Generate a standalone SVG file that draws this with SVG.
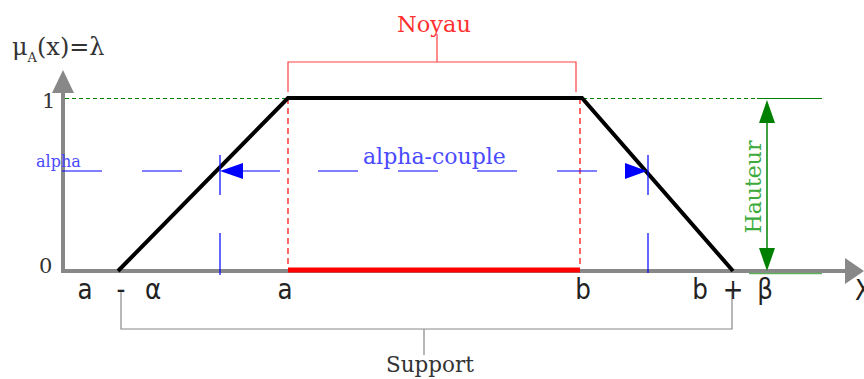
<svg xmlns="http://www.w3.org/2000/svg" width="864" height="379" viewBox="0 0 864 379">
<style>
.serif{font-family:"DejaVu Serif","Liberation Serif",serif}
.sans{font-family:"DejaVu Sans","Liberation Sans",sans-serif}
.axis{stroke:#888;stroke-width:4;fill:none}
.blue{stroke:#0000ff;stroke-width:1.2;fill:none}
.redd{stroke:#ff0000;stroke-width:1.2;stroke-dasharray:6,4;fill:none}
.brk{fill:none;stroke-width:1.2}
</style>
<rect width="864" height="379" fill="#fff"/>
<g id="axes">
<line class="axis" x1="63" y1="271" x2="63" y2="90"/>
<polygon points="63,70 52,93 74,93" fill="#888"/>
<line class="axis" x1="61" y1="271" x2="846" y2="271"/>
<polygon points="864,271 845,258 845,284" fill="#888"/>
</g>
<g id="guides">
<line x1="65" y1="98.5" x2="757" y2="98.5" stroke="#008000" stroke-width="1" stroke-dasharray="4,3"/>
<line x1="757" y1="98.5" x2="822" y2="98.5" stroke="#008000" stroke-width="1"/>
<line x1="749" y1="273.5" x2="822" y2="273.5" stroke="#60b060" stroke-width="1.5"/>
<line class="redd" x1="288" y1="98" x2="288" y2="268"/>
<line class="redd" x1="580" y1="98" x2="580" y2="268"/>
</g>
<g id="trapezoid">
<polyline points="118,271 288,98 582,98 733,271" fill="none" stroke="#000" stroke-width="4" stroke-linejoin="miter"/>
<line x1="288" y1="270" x2="580" y2="270" stroke="#ff0000" stroke-width="5"/>
</g>
<g id="alpha-cut">
<path class="blue" d="M62,171 H102 M142,171 H182 M243,171 H280 M318,171 H358 M398,171 H438 M477,171 H517 M557,171 H597 M220,155 V195 M220,233 V275 M648,155 V195 M648,233 V273"/>
<polygon points="220,171 243,163 243,179" fill="#0000ff"/>
<polygon points="647,171 625,163 625,179" fill="#0000ff"/>
<text class="serif" x="36" y="167" font-size="16" fill="#4a4aff">alpha</text>
<text class="serif" x="363" y="164" font-size="22" fill="#4a4aff">alpha-couple</text>
</g>
<g id="noyau">
<path class="brk" stroke="#ff4040" d="M288,92 V62 H576 V92 M437,62 V34"/>
<text class="serif" x="434" y="32" font-size="22.5" fill="#ff3030" text-anchor="middle">Noyau</text>
</g>
<g id="hauteur">
<line x1="767" y1="122" x2="767" y2="250" stroke="#008000" stroke-width="1.5"/>
<polygon points="767,100 759,123 775,123" fill="#008000"/>
<polygon points="767,271 759,248 775,248" fill="#008000"/>
<text class="serif" transform="translate(761,187) rotate(-90)" font-size="22" fill="#3caa3c" text-anchor="middle">Hauteur</text>
</g>
<g id="support">
<path class="brk" stroke="#888" d="M121,292 V329 H732 V292 M424,329 V355"/>
<text class="serif" x="430" y="372" font-size="21.5" fill="#333" text-anchor="middle">Support</text>
</g>
<g id="labels" fill="#222">
<text class="serif" x="12" y="55" font-size="24" fill="#333">μ<tspan font-size="13" dy="7">A</tspan><tspan dy="-7">(x)=λ</tspan></text>
<text class="serif" x="42" y="108" font-size="21" fill="#333">1</text>
<text class="serif" x="39" y="273" font-size="21" fill="#333">0</text>
<g class="sans" font-size="28" text-anchor="middle">
<text transform="translate(85,299) scale(0.88,1)">a</text>
<text transform="translate(121,299) scale(0.88,1)">-</text>
<text transform="translate(153,299) scale(0.88,1)">α</text>
<text transform="translate(285,299) scale(0.88,1)">a</text>
<text transform="translate(583,299) scale(0.88,1)">b</text>
<text transform="translate(700,299) scale(0.88,1)">b</text>
<text transform="translate(733,299) scale(0.88,1)">+</text>
<text transform="translate(765,299) scale(0.88,1)">β</text>
</g>
<text class="sans" transform="translate(855,300) scale(0.88,1)" font-size="28">X</text>
</g>
</svg>
